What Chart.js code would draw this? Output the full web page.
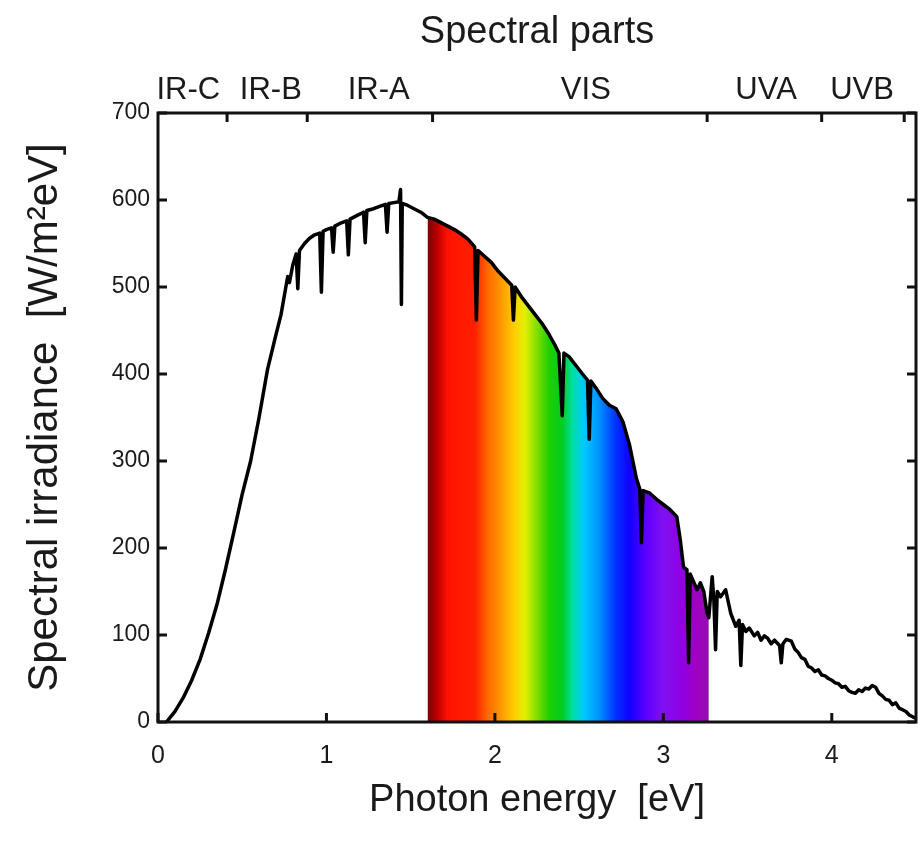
<!DOCTYPE html>
<html>
<head>
<meta charset="utf-8">
<script src="https://cdn.jsdelivr.net/npm/chart.js@4.4.0/dist/chart.umd.min.js"></script>
<style>
  body { margin: 0; background: #fff; }
  #wrap { width: 918px; height: 841px; }
</style>
</head>
<body>
<div id="wrap"><canvas id="myChart" width="918" height="841"></canvas></div>
<script>
// photon energy [eV] and spectral irradiance [W/m2eV]
const energy = [
  0.05, 0.10, 0.15, 0.20, 0.25, 0.30, 0.35, 0.40, 0.45, 0.50,
  0.55, 0.60, 0.65, 0.70, 0.73, 0.75, 0.77, 0.78, 0.80, 0.82,
  0.83, 0.84, 0.87, 0.90, 0.93, 0.96, 0.97, 0.98, 1.00, 1.03,
  1.04, 1.05, 1.08, 1.12, 1.13, 1.14, 1.18, 1.22, 1.23, 1.24,
  1.28, 1.32, 1.35, 1.36, 1.37, 1.40, 1.43, 1.44, 1.445, 1.45,
  1.48, 1.52, 1.56, 1.60, 1.64, 1.68, 1.72, 1.76, 1.80, 1.84,
  1.88, 1.89, 1.90, 1.94, 1.98, 2.02, 2.06, 2.10, 2.11, 2.12,
  2.16, 2.20, 2.24, 2.28, 2.32, 2.36, 2.38, 2.40, 2.41, 2.44,
  2.48, 2.52, 2.55, 2.56, 2.57, 2.60, 2.64, 2.68, 2.72, 2.76,
  2.80, 2.84, 2.86, 2.87, 2.88, 2.92, 2.96, 3.00, 3.04, 3.08,
  3.10, 3.12, 3.14, 3.15, 3.16, 3.20, 3.22, 3.24, 3.26, 3.27,
  3.29, 3.30, 3.31, 3.32, 3.34, 3.37, 3.40, 3.43, 3.45, 3.46,
  3.47, 3.49, 3.51, 3.54, 3.56, 3.58, 3.60, 3.62, 3.64, 3.66,
  3.69, 3.70, 3.71, 3.73, 3.76, 3.78, 3.80, 3.82, 3.84, 3.86,
  3.88, 3.90, 3.92, 3.94, 3.96, 3.98, 4.00, 4.02, 4.04, 4.06,
  4.08, 4.10, 4.12, 4.14, 4.16, 4.18, 4.20, 4.22, 4.24, 4.26,
  4.28, 4.30, 4.32, 4.34, 4.36, 4.38, 4.40, 4.42, 4.44, 4.46,
  4.48, 4.50
];
const irradiance = [
  0, 12, 28, 48, 72, 102, 135, 175, 218, 262,
  300, 350, 405, 445, 468, 490, 512, 505, 525, 538,
  498, 542, 550, 556, 560, 562, 494, 564, 566, 568,
  540, 570, 573, 576, 537, 578, 582, 586, 551, 588,
  590, 593, 595, 563, 596, 597, 598, 612, 480, 596,
  594, 590, 586, 580, 578, 574, 570, 566, 561, 555,
  546, 462, 542, 535, 528, 518, 510, 502, 462, 500,
  488, 478, 468, 458, 446, 432, 424, 352, 424, 420,
  410, 400, 393, 325, 392, 384, 372, 364, 360, 345,
  318, 280, 268, 206, 266, 263, 256, 250, 244, 236,
  210, 178, 175, 68, 170, 152, 160, 150, 125, 120,
  167, 140, 83, 150, 144, 152, 125, 110, 117, 65,
  112, 104, 108, 99, 103, 94, 99, 96, 90, 94,
  88, 68, 90, 95, 93, 84, 80, 74, 72, 64,
  62, 58, 60, 54, 53, 50, 48, 45, 44, 40,
  41, 36, 34, 33, 37, 35, 39, 38, 42, 40,
  33, 30, 26, 25, 20, 22, 16, 14, 12, 8,
  6, 4
];

const energyTicks = [0, 1, 2, 3, 4];
const irradianceTicks = [0, 100, 200, 300, 400, 500, 600, 700];

// spectral parts on the top axis
const bandEdges = [0.41, 0.886, 1.63, 3.26, 3.94, 4.43];
const bandNames = ['IR-C', 'IR-B', 'IR-A', 'VIS', 'UVA', 'UVB'];
const bandLabelAt = [0.18, 0.67, 1.31, 2.54, 3.61, 4.18];

// visible range painted as a rainbow
const visFrom = 1.6, visTo = 3.27;
const rainbowAt = [1.60, 1.66, 1.72, 1.88, 1.96, 2.04, 2.12, 2.18, 2.24, 2.32, 2.40,
                   2.46, 2.53, 2.62, 2.72, 2.80, 2.90, 3.00, 3.12, 3.20, 3.27];
const rainbowColors = ['#7a0000', '#c00000', '#ff1200', '#ff2000', '#ff6a00', '#ff9a00',
                       '#ffd000', '#e0f000', '#90e000', '#20d000', '#00cc20', '#00e0a0',
                       '#00c8ff', '#0090ff', '#0030ff', '#1000ff', '#6000ff', '#8010f0',
                       '#9000e0', '#a000c0', '#9010b0'];

const FONT = "'Liberation Sans', Arial, sans-serif";
const TEXT = '#1a1a1a';

const spectrum = energy.map((e, i) => ({ x: e, y: irradiance[i] }));
const visible = spectrum.filter(p => p.x >= visFrom && p.x <= visTo);

function rainbow(context) {
  const chart = context.chart;
  if (!chart.chartArea) return 'rgba(0,0,0,0)';
  const xs = chart.scales.x;
  const x0 = xs.getPixelForValue(visFrom), x1 = xs.getPixelForValue(visTo);
  const g = chart.ctx.createLinearGradient(x0, 0, x1, 0);
  rainbowAt.forEach((e, i) => g.addColorStop((e - visFrom) / (visTo - visFrom), rainbowColors[i]));
  return g;
}

// box around the plot with inward ticks, like the original
const frame = {
  id: 'frame',
  afterDraw(chart) {
    const { ctx, chartArea: a, scales } = chart;
    const L = 9;
    ctx.save();
    ctx.strokeStyle = '#111';
    ctx.lineWidth = 3;
    ctx.strokeRect(a.left, a.top, a.right - a.left, a.bottom - a.top);
    ctx.beginPath();
    energyTicks.forEach(v => {
      const x = scales.x.getPixelForValue(v);
      ctx.moveTo(x, a.bottom); ctx.lineTo(x, a.bottom - L);
    });
    bandEdges.forEach(v => {
      const x = scales.x.getPixelForValue(v);
      ctx.moveTo(x, a.top); ctx.lineTo(x, a.top + L);
    });
    irradianceTicks.forEach(v => {
      const y = scales.y.getPixelForValue(v);
      ctx.moveTo(a.left, y); ctx.lineTo(a.left + L, y);
      ctx.moveTo(a.right, y); ctx.lineTo(a.right - L, y);
    });
    ctx.stroke();
    ctx.restore();
  }
};

new Chart(document.getElementById('myChart'), {
  type: 'line',
  data: {
    datasets: [{
      data: spectrum,
      borderColor: '#000',
      borderWidth: 3.5,
      borderJoinStyle: 'round',
      pointRadius: 0,
      fill: false,
      order: 0
    }, {
      data: visible,
      borderWidth: 0,
      borderColor: 'rgba(0,0,0,0)',
      backgroundColor: rainbow,
      pointRadius: 0,
      fill: 'origin',
      order: 1
    }]
  },
  plugins: [frame],
  options: {
    responsive: false,
    animation: false,
    layout: { padding: { left: 0, right: 2, top: 0, bottom: 0 } },
    plugins: { legend: { display: false }, tooltip: { enabled: false } },
    scales: {
      x: {
        type: 'linear', position: 'bottom', min: 0, max: 4.5,
        afterBuildTicks: s => { s.ticks = energyTicks.map(v => ({ value: v })); },
        afterFit: s => { s.height = 119; },
        grid: { display: false, drawTicks: false },
        border: { display: false },
        ticks: { font: { family: FONT, size: 25 }, color: TEXT, padding: 19, maxRotation: 0 },
        title: { display: true, text: 'Photon energy  [eV]', color: TEXT,
                 font: { family: FONT, size: 38 }, padding: { top: 0, bottom: 18 } }
      },
      top: {
        type: 'linear', position: 'top', min: 0, max: 4.5,
        afterBuildTicks: s => { s.ticks = bandLabelAt.map(v => ({ value: v })); },
        afterFit: s => { s.height = 113; },
        grid: { display: false, drawTicks: false },
        border: { display: false },
        ticks: { font: { family: FONT, size: 31 }, color: TEXT, padding: 4,
                 autoSkip: false, maxRotation: 0,
                 callback: (v, i) => bandNames[i] },
        title: { display: true, text: 'Spectral parts', color: TEXT,
                 font: { family: FONT, size: 38 }, padding: { top: 10, bottom: 0 } }
      },
      y: {
        type: 'linear', position: 'left', min: 0, max: 700,
        afterBuildTicks: s => { s.ticks = irradianceTicks.map(v => ({ value: v })); },
        afterFit: s => { s.width = 158; },
        grid: { display: false, drawTicks: false },
        border: { display: false },
        ticks: { font: { family: FONT, size: 23 }, color: TEXT, padding: 8 },
        title: { display: true, text: 'Spectral irradiance  [W/m²eV]', color: TEXT,
                 font: { family: FONT, size: 42 }, padding: { top: 20, bottom: 0 } }
      }
    }
  }
});
</script>
</body>
</html>
